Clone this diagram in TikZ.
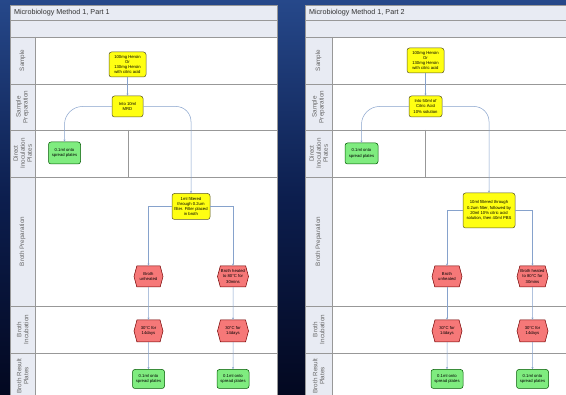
\documentclass[tikz,border=0pt]{standalone}
\usepackage{fontspec}
\setmainfont{Liberation Sans}
\usetikzlibrary{shapes.symbols,arrows.meta}
\definecolor{navytop}{HTML}{26488A}
\definecolor{navymid}{HTML}{0C1E4E}
\definecolor{navybot}{HTML}{030820}
\definecolor{lanefill}{HTML}{E8EBF3}
\definecolor{laneline}{HTML}{989898}
\definecolor{flowline}{HTML}{86A2CC}
\definecolor{stepyellow}{HTML}{FFFF12}
\definecolor{stepred}{HTML}{F67878}
\definecolor{stepgreen}{HTML}{7FEC7F}
\tikzset{
  steptext/.style={align=center, inner sep=0.5pt, font=\fontsize{4.2}{5.2}\selectfont, line width=0.5pt},
  ybox/.style={steptext, draw=black!45!olive, fill=stepyellow, rounded corners=2.5pt},
  gbox/.style={steptext, draw=green!35!black, fill=stepgreen, rounded corners=2.5pt},
  rhex/.style={steptext, shape=signal, signal to=east and west, signal pointer angle=150, draw=red!45!black, fill=stepred},
  lanelabel/.style={rotate=90, align=center, text=black!60, font=\fontsize{6.3}{7}\selectfont},
  lanesep/.style={draw=laneline, line width=0.9pt},
  flow/.style={draw=flowline, line width=0.5pt, -{Stealth[length=2.2pt,width=2pt]}}
}
\begin{document}
\begin{tikzpicture}[x=1pt,y=-1pt]
\useasboundingbox (0,0) rectangle (566,395);
\clip (0,0) rectangle (566,395);
\fill[top color=navytop, bottom color=navybot, middle color=navymid] (0,0) rectangle (566,395);
% part 1 frame
\fill[white] (10,5) rectangle (277,400);
\fill[lanefill] (10,5) rectangle (277,37);
\fill[lanefill] (10,37) rectangle (35,400);
\draw[laneline, line width=0.5pt] (10,5) rectangle (277,400);
\draw[lanesep] (10,20) -- (277,20);
\draw[lanesep] (10,37) -- (277,37);
\draw[lanesep] (10,84) -- (277,84);
\draw[lanesep] (10,130) -- (277,130);
\draw[lanesep] (10,177) -- (277,177);
\draw[lanesep] (10,306) -- (277,306);
\draw[lanesep] (10,353) -- (277,353);
\draw[lanesep] (35,37) -- (35,400);
\draw[lanesep] (128,130) -- (128,177);
\node[anchor=west, text=black!80, font=\fontsize{7.2}{8}\selectfont] (title1) at (10.5,12.5) {Microbiology Method 1, Part 1};
\node[lanelabel] (lsam1) at (22.5,60.5) {Sample};
\node[lanelabel] (lprep1) at (22.5,107) {Sample\\Preparation};
\node[lanelabel] (ldir1) at (22.5,153.5) {Direct\\Inoculation\\Plates};
\node[lanelabel] (lbro1) at (22.5,241.5) {Broth Preparation};
\node[lanelabel] (linc1) at (22.5,329.5) {Broth\\Incubation};
\node[lanelabel] (lres1) at (22.5,376) {Broth Result\\Plates};
% part 1 steps
\node[ybox, minimum width=37, minimum height=25] (samp1) at (127.5,64.5) {100mg Heroin\\Or\\130mg Heroin\\with citric acid};
\node[ybox, minimum width=31, minimum height=21] (prep1) at (127.5,106.5) {Into 10ml\\MRD};
\node[gbox, minimum width=32, minimum height=22] (direct1) at (64.5,153) {0.1ml onto\\spread plates};
\node[ybox, minimum width=38, minimum height=26] (broth1) at (191,206.5) {1ml filtered\\through 0.2um\\filter. Filter placed\\in broth};
\node[rhex, minimum width=29, minimum height=21] (unh1) at (148.5,276.5) {Broth\\unheated};
\node[rhex, minimum width=31, minimum height=21] (heat1) at (233,276.5) {Broth heated\\to 80\textdegree C for\\30mins};
\node[rhex, minimum width=29, minimum height=22] (inca1) at (148.5,331) {30\textdegree C for\\14days};
\node[rhex, minimum width=31, minimum height=22] (incb1) at (233,331) {30\textdegree C for\\14days};
\node[gbox, minimum width=32, minimum height=19] (resa1) at (148.5,379) {0.1ml onto\\spread plates};
\node[gbox, minimum width=32, minimum height=19] (resb1) at (233,379) {0.1ml onto\\spread plates};
\draw[flow] (samp1) -- (prep1);
\draw[flow, rounded corners=18pt] (prep1.west) -| (direct1.north);
\draw[flow, rounded corners=15pt] (prep1.east) -| (broth1.north);
\draw[flow] (broth1.west) -| (unh1.north);
\draw[flow] (broth1.east) -| (heat1.north);
\draw[flow] (unh1) -- (inca1);
\draw[flow] (heat1) -- (incb1);
\draw[flow] (inca1) -- (resa1);
\draw[flow] (incb1) -- (resb1);
% part 2 frame
\fill[white] (305,5) rectangle (580,400);
\fill[lanefill] (305,5) rectangle (580,37);
\fill[lanefill] (305,37) rectangle (332,400);
\draw[laneline, line width=0.5pt] (305,5) rectangle (580,400);
\draw[lanesep] (305,20) -- (580,20);
\draw[lanesep] (305,37) -- (580,37);
\draw[lanesep] (305,84) -- (580,84);
\draw[lanesep] (305,130) -- (580,130);
\draw[lanesep] (305,177) -- (580,177);
\draw[lanesep] (305,306) -- (580,306);
\draw[lanesep] (305,353) -- (580,353);
\draw[lanesep] (332,37) -- (332,400);
\draw[lanesep] (425,130) -- (425,177);
\node[anchor=west, text=black!80, font=\fontsize{7.2}{8}\selectfont] (title2) at (305.5,12.5) {Microbiology Method 1, Part 2};
\node[lanelabel] (lsam2) at (318.5,60.5) {Sample};
\node[lanelabel] (lprep2) at (318.5,107) {Sample\\Preparation};
\node[lanelabel] (ldir2) at (318.5,153.5) {Direct\\Inoculation\\Plates};
\node[lanelabel] (lbro2) at (318.5,241.5) {Broth Preparation};
\node[lanelabel] (linc2) at (318.5,329.5) {Broth\\Incubation};
\node[lanelabel] (lres2) at (318.5,376) {Broth Result\\Plates};
% part 2 steps
\node[ybox, minimum width=37, minimum height=25] (samp2) at (425.5,60.5) {100mg Heroin\\Or\\130mg Heroin\\with citric acid};
\node[ybox, minimum width=33, minimum height=21] (prep2) at (425.5,106.5) {Into 50ml of\\Citric Acid\\10\% solution};
\node[gbox, minimum width=33, minimum height=21] (direct2) at (361.5,153.5) {0.1ml onto\\spread plates};
\node[ybox, minimum width=52, minimum height=35] (broth2) at (489,210.5) {10ml filtered through\\0.2um filter, followed by\\20ml 10\% citric acid\\solution, then 40ml PBS};
\node[rhex, minimum width=30, minimum height=21] (unh2) at (447,276.5) {Broth\\unheated};
\node[rhex, minimum width=31, minimum height=21] (heat2) at (532.5,276.5) {Broth heated\\to 80\textdegree C for\\30mins};
\node[rhex, minimum width=30, minimum height=22] (inca2) at (447,331) {30\textdegree C for\\14days};
\node[rhex, minimum width=31, minimum height=22] (incb2) at (532.5,331) {30\textdegree C for\\14days};
\node[gbox, minimum width=32, minimum height=19] (resa2) at (447,379) {0.1ml onto\\spread plates};
\node[gbox, minimum width=32, minimum height=19] (resb2) at (532.5,379) {0.1ml onto\\spread plates};
\draw[flow] (samp2) -- (prep2);
\draw[flow, rounded corners=18pt] (prep2.west) -| (direct2.north);
\draw[flow, rounded corners=15pt] (prep2.east) -| (broth2.north);
\draw[flow] (broth2.west) -| (unh2.north);
\draw[flow] (broth2.east) -| (heat2.north);
\draw[flow] (unh2) -- (inca2);
\draw[flow] (heat2) -- (incb2);
\draw[flow] (inca2) -- (resa2);
\draw[flow] (incb2) -- (resb2);
\end{tikzpicture}
\end{document}
